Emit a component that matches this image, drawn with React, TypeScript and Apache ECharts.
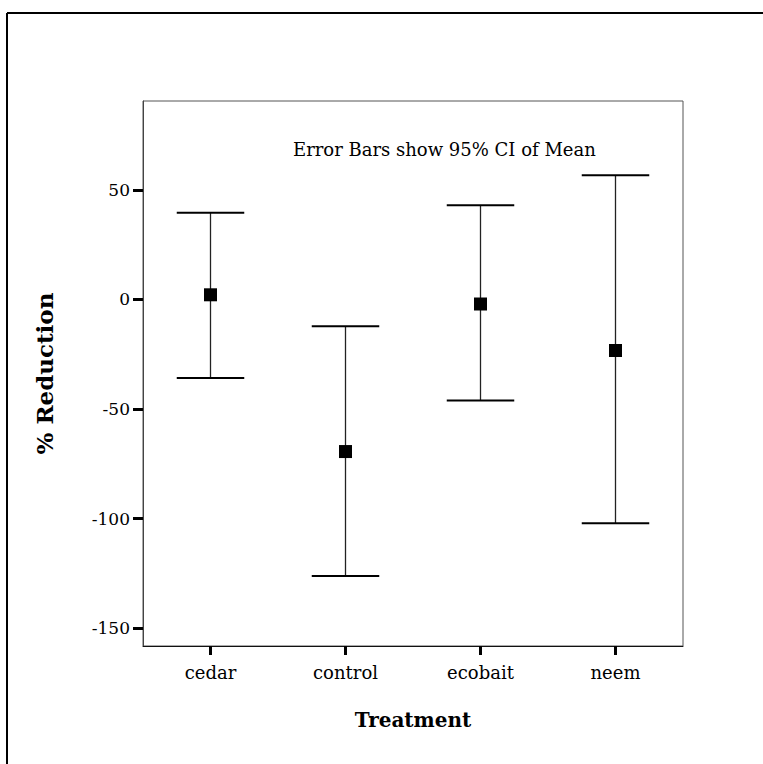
import React, { useEffect, useRef } from "react";
import * as echarts from "echarts";

const categories = ["cedar", "control", "ecobait", "neem"];
const meanValues = [2.1, -69.4, -2.1, -23.3];
const ciLower = [-35.8, -126.2, -46.1, -102.1];
const ciUpper = [39.5, -12.3, 42.9, 56.6];
const yTickValues = [-150, -100, -50, 0, 50];
const yMin = -158.1;
const yMax = 90.5;
const noteText = "Error Bars show 95% CI of Mean";

const SERIF = "DejaVu Serif";

export default function App() {
  const ref = useRef<HTMLDivElement>(null);

  useEffect(() => {
    if (!ref.current) return;
    const chart = echarts.init(ref.current, null, { renderer: "svg" });

    const errorData = categories.map((_, i) => [i, ciLower[i], ciUpper[i]]);
    const meanData = categories.map((_, i) => [i, meanValues[i]]);

    const option: any = {
      animation: false,
      backgroundColor: "#ffffff",
      grid: {
        left: 143,
        top: 101,
        right: 80,
        bottom: 118,
        show: true,
        borderColor: "#555",
        borderWidth: 1,
        backgroundColor: "transparent",
      },
      xAxis: {
        type: "category",
        data: categories,
        boundaryGap: true,
        axisLine: { show: true, onZero: false, lineStyle: { color: "#111", width: 1 } },
        axisTick: {
          show: true,
          alignWithLabel: true,
          length: 9,
          lineStyle: { color: "#000", width: 3 },
        },
        axisLabel: {
          color: "#000",
          fontFamily: SERIF,
          fontSize: 18,
          margin: 17,
        },
        splitLine: { show: false },
        name: "Treatment",
        nameLocation: "middle",
        nameGap: 64,
        nameTextStyle: {
          color: "#000",
          fontFamily: SERIF,
          fontWeight: "bold",
          fontSize: 20,
        },
      },
      yAxis: {
        type: "value",
        min: yMin,
        max: yMax,
        axisLine: { show: true, onZero: false, lineStyle: { color: "#444", width: 1 } },
        axisTick: {
          show: true,
          customValues: yTickValues,
          length: 10,
          lineStyle: { color: "#000", width: 3 },
        },
        axisLabel: {
          customValues: yTickValues,
          color: "#000",
          fontFamily: SERIF,
          fontSize: 17,
          margin: 13,
        },
        splitLine: { show: false },
        name: "% Reduction",
        nameLocation: "middle",
        nameGap: 87,
        nameTextStyle: {
          color: "#000",
          fontFamily: SERIF,
          fontWeight: "bold",
          fontSize: 23,
        },
      },
      graphic: [
        {
          type: "line",
          shape: { x1: 7, y1: 13, x2: 763, y2: 13 },
          style: { stroke: "#000", lineWidth: 2 },
        },
        {
          type: "line",
          shape: { x1: 7, y1: 13, x2: 7, y2: 764 },
          style: { stroke: "#000", lineWidth: 2 },
        },
        {
          type: "text",
          left: 293,
          top: 140,
          style: {
            text: noteText,
            fill: "#000",
            font: `18px "${SERIF}"`,
          },
        },
      ],
      series: [
        {
          type: "custom",
          data: errorData,
          encode: { x: 0, y: [1, 2] },
          renderItem: (params: any, api: any) => {
            const idx = api.value(0);
            const lo = api.coord([idx, api.value(1)]);
            const hi = api.coord([idx, api.value(2)]);
            const half = api.size([1, 0])[0] * 0.25;
            return {
              type: "group",
              children: [
                {
                  type: "line",
                  shape: { x1: lo[0], y1: lo[1], x2: hi[0], y2: hi[1] },
                  style: { stroke: "#222", lineWidth: 1.3 },
                },
                {
                  type: "line",
                  shape: { x1: hi[0] - half, y1: hi[1], x2: hi[0] + half, y2: hi[1] },
                  style: { stroke: "#000", lineWidth: 2 },
                },
                {
                  type: "line",
                  shape: { x1: lo[0] - half, y1: lo[1], x2: lo[0] + half, y2: lo[1] },
                  style: { stroke: "#000", lineWidth: 2 },
                },
              ],
            };
          },
          z: 2,
        },
        {
          type: "scatter",
          data: meanData,
          symbol: "rect",
          symbolSize: 13,
          itemStyle: { color: "#000", opacity: 1 },
          z: 3,
        },
      ],
    };

    chart.setOption(option);
    return () => chart.dispose();
  }, []);

  return (
    <div
      ref={ref}
      style={{
        position: "fixed",
        left: 0,
        top: 0,
        width: 763,
        height: 764,
        background: "#fff",
      }}
    />
  );
}
